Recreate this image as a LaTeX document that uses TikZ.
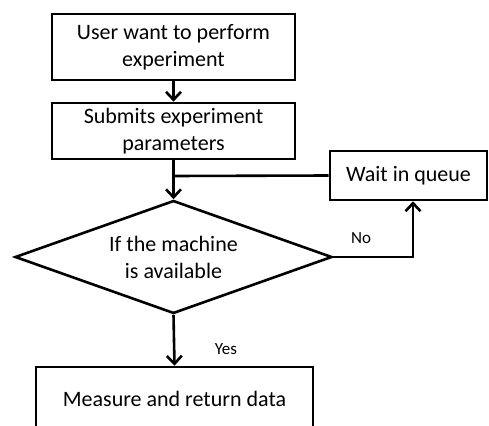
\documentclass[tikz,border=0pt]{standalone}
\usepackage{fontspec}
\setmainfont{Carlito}
\usetikzlibrary{shapes.geometric, arrows.meta, calc}

\tikzset{
    stepbox/.style={draw, line width=2.6pt, align=center, inner sep=0pt},
    decision/.style={draw, diamond, aspect=2.8, line width=2.6pt, align=center, inner sep=0pt},
    flow/.style={line width=2.6pt, -{Straight Barb[length=8pt, width=15pt, line width=2.6pt]}},
    link/.style={line width=2.6pt},
}

\begin{document}
\begin{tikzpicture}[x=1pt, y=-1pt, font=\fontsize{22}{27}\selectfont]
    \useasboundingbox (0,0) rectangle (489,425);
    \clip (0,0) rectangle (489,425);

    \node[stepbox, minimum width=243pt, minimum height=66pt] (user) at (173.5,47) {User want to perform\\experiment};
    \node[stepbox, minimum width=243pt, minimum height=56pt] (submit) at (173.5,131) {Submits experiment\\parameters};
    \node[decision, minimum width=317pt, minimum height=113pt] (check) at (173.5,257) {If the machine\\is available};
    \node[stepbox, minimum width=157pt, minimum height=49pt] (wait) at (408.5,175.5) {Wait in queue};
    \node[stepbox, minimum width=277pt, minimum height=64pt] (measure) at (174.5,399) {Measure and return data};
    \coordinate (join) at (173.5,176);

    \draw[flow] (user) -- (submit);
    \draw[flow] (submit) -- (check);
    \draw[link] (wait.west) -- (join);
    \draw[flow] (check.east) -| ([xshift=4.5pt]wait.south);
    \draw[flow] (check.south) -- (measure.north);

    \node[font=\fontsize{17}{20}\selectfont] (no) at (361,238) {No};
    \node[font=\fontsize{17}{20}\selectfont] (yes) at (226,349) {Yes};
\end{tikzpicture}
\end{document}
